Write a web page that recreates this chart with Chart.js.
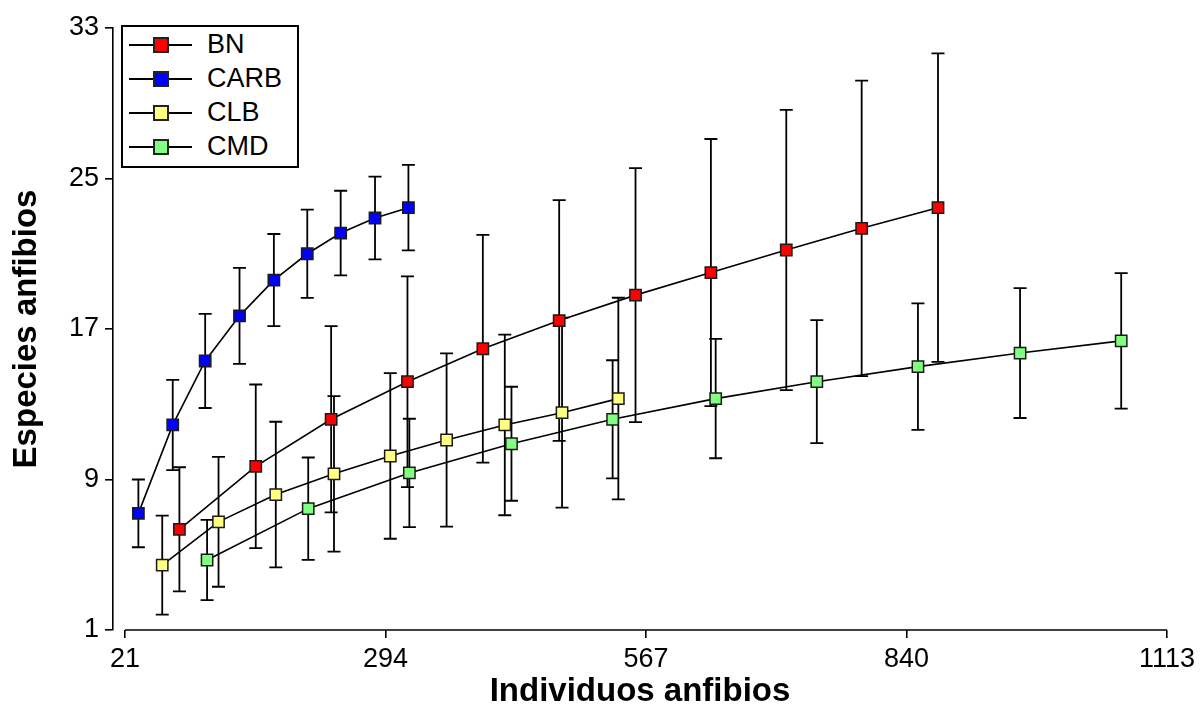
<!DOCTYPE html>
<html lang="es">
<head>
<meta charset="UTF-8">
<title>Especies vs individuos anfibios</title>
<script src="https://cdn.jsdelivr.net/npm/chart.js"></script>
<style>
    body {
        margin: 0;
        background: #fff;
        font-family: Arial, "Liberation Sans", sans-serif;
    }
    #wrap {
        position: relative;
        width: 1201px;
        height: 708px;
    }
    #legend {
        position: absolute;
        left: 121px;
        top: 25px;
        width: 174px;
        height: 139px;
        border: 2px solid #000;
        background: #fff;
    }
    .row {
        position: absolute;
        left: 0;
        height: 30px;
    }
    .row .ln {
        position: absolute;
        left: 6px;
        top: 14px;
        width: 63px;
        height: 2px;
        background: #000;
    }
    .row .mk {
        position: absolute;
        left: 30px;
        top: 7px;
        width: 12px;
        height: 12px;
        border: 2px solid #222;
    }
    .row .tx {
        position: absolute;
        left: 84px;
        top: -2px;
        font-size: 27px;
        line-height: 32px;
        color: #000;
    }
</style>
</head>
<body>
<div id="wrap">
    <canvas id="chart" width="1201" height="708"></canvas>
    <div id="legend"></div>
</div>
<script>
    // datos
    const seriesNames = ['BN', 'CARB', 'CLB', 'CMD'];
    const seriesColors = ['#ff0000', '#0000ff', '#ffff80', '#80ff80'];

    const bnX = [78, 158, 237, 317, 396, 476, 556, 635, 714, 793, 873];
    const bnY = [6.35, 9.7, 12.2, 14.2, 15.95, 17.45, 18.8, 20.0, 21.2, 22.35, 23.45];
    const bnErr = [3.3, 4.35, 4.95, 5.6, 6.05, 6.4, 6.75, 7.1, 7.45, 7.85, 8.2];

    const carbX = [35, 71, 105, 141, 177, 212, 247, 283, 318];
    const carbY = [7.2, 11.9, 15.3, 17.7, 19.6, 21.0, 22.1, 22.9, 23.45];
    const carbErr = [1.8, 2.4, 2.5, 2.55, 2.45, 2.35, 2.25, 2.2, 2.27];

    const clbX = [60, 119, 179, 240, 299, 358, 419, 479, 538];
    const clbY = [4.45, 6.75, 8.2, 9.3, 10.25, 11.1, 11.9, 12.55, 13.3];
    const clbErr = [2.63, 3.45, 3.87, 4.13, 4.4, 4.6, 4.8, 5.05, 5.36];

    const cmdX = [107, 213, 319, 426, 532, 640, 746, 852, 959, 1065];
    const cmdY = [4.72, 7.45, 9.35, 10.9, 12.2, 13.3, 14.2, 15.0, 15.72, 16.37];
    const cmdErr = [2.13, 2.72, 2.88, 3.03, 3.14, 3.17, 3.27, 3.36, 3.45, 3.6];

    const xTicks = [21, 294, 567, 840, 1113];
    const yTicks = [1, 9, 17, 25, 33];

    const allX = [bnX, carbX, clbX, cmdX];
    const allY = [bnY, carbY, clbY, cmdY];
    const allErr = [bnErr, carbErr, clbErr, cmdErr];

    const datasets = seriesNames.map((name, i) => ({
        label: name,
        data: allX[i].map((x, j) => ({ x: x, y: allY[i][j] })),
        errors: allErr[i],
        borderColor: '#000',
        borderWidth: 1.6,
        backgroundColor: seriesColors[i],
        pointStyle: 'rect',
        pointRadius: 8,
        pointBorderWidth: 1.5,
        pointBorderColor: '#1a1a1a',
        pointBackgroundColor: seriesColors[i],
        tension: 0,
        fill: false
    }));

    // barras de error
    const errorBars = {
        id: 'errorBars',
        beforeDatasetsDraw(chart) {
            const ctx = chart.ctx;
            const xs = chart.scales.x, ys = chart.scales.y;
            ctx.save();
            ctx.strokeStyle = '#000';
            ctx.lineWidth = 1.8;
            chart.data.datasets.forEach(ds => {
                ds.data.forEach((p, j) => {
                    const e = ds.errors[j];
                    const px = xs.getPixelForValue(p.x);
                    const top = ys.getPixelForValue(p.y + e);
                    const bot = ys.getPixelForValue(p.y - e);
                    ctx.beginPath();
                    ctx.moveTo(px, top);
                    ctx.lineTo(px, bot);
                    ctx.moveTo(px - 6.5, top);
                    ctx.lineTo(px + 6.5, top);
                    ctx.moveTo(px - 6.5, bot);
                    ctx.lineTo(px + 6.5, bot);
                    ctx.stroke();
                });
            });
            ctx.restore();
        }
    };

    // eje x separado del eje y
    const xAxisLine = {
        id: 'xAxisLine',
        afterDraw(chart) {
            const ctx = chart.ctx;
            const xs = chart.scales.x;
            const y = chart.chartArea.bottom;
            ctx.save();
            ctx.strokeStyle = '#000';
            ctx.lineWidth = 1.6;
            ctx.beginPath();
            ctx.moveTo(xs.getPixelForValue(xTicks[0]), y);
            ctx.lineTo(xs.getPixelForValue(xTicks[xTicks.length - 1]), y);
            ctx.stroke();
            ctx.restore();
        }
    };

    const tickFont = { family: 'Arial, "Liberation Sans"', size: 27 };
    const titleFont = { family: 'Arial, "Liberation Sans"', size: 33, weight: 'bold', lineHeight: 1 };

    new Chart(document.getElementById('chart'), {
        type: 'line',
        data: { datasets: datasets },
        plugins: [errorBars, xAxisLine],
        options: {
            responsive: false,
            animation: false,
            layout: { padding: { top: 28, right: 34, bottom: 0, left: 0 } },
            plugins: {
                legend: { display: false },
                tooltip: { enabled: false }
            },
            scales: {
                x: {
                    type: 'linear',
                    min: 8.4,
                    max: 1113,
                    afterBuildTicks: s => { s.ticks = xTicks.map(v => ({ value: v })); },
                    afterFit: s => { s.height = 78; },
                    border: { display: false },
                    grid: {
                        drawOnChartArea: false,
                        drawTicks: true,
                        tickLength: 8,
                        color: '#000',
                        lineWidth: 1.6
                    },
                    ticks: {
                        color: '#000',
                        padding: 5,
                        maxRotation: 0,
                        font: tickFont,
                        callback: v => String(v)
                    },
                    title: {
                        display: true,
                        text: 'Individuos anfibios',
                        color: '#000',
                        padding: { top: 0, bottom: 0 },
                        font: titleFont
                    }
                },
                y: {
                    type: 'linear',
                    min: 1,
                    max: 33,
                    afterBuildTicks: s => { s.ticks = yTicks.map(v => ({ value: v })); },
                    afterFit: s => { s.width = 113; },
                    border: { display: true, color: '#000', width: 1.6 },
                    grid: {
                        drawOnChartArea: false,
                        drawTicks: true,
                        tickLength: 8,
                        color: '#000',
                        lineWidth: 1.6
                    },
                    ticks: {
                        color: '#000',
                        padding: 6,
                        font: tickFont,
                        callback: v => String(v)
                    },
                    title: {
                        display: true,
                        text: 'Especies anfibios',
                        color: '#000',
                        padding: { top: 10, bottom: 0 },
                        font: titleFont
                    }
                }
            }
        }
    });

    // leyenda en html
    const legend = document.getElementById('legend');
    seriesNames.forEach((name, i) => {
        const row = document.createElement('div');
        row.className = 'row';
        row.style.top = (3 + i * 33.9) + 'px';
        row.innerHTML = '<div class="ln"></div><div class="mk" style="background:' +
            seriesColors[i] + '"></div><div class="tx">' + name + '</div>';
        legend.appendChild(row);
    });
</script>
</body>
</html>
